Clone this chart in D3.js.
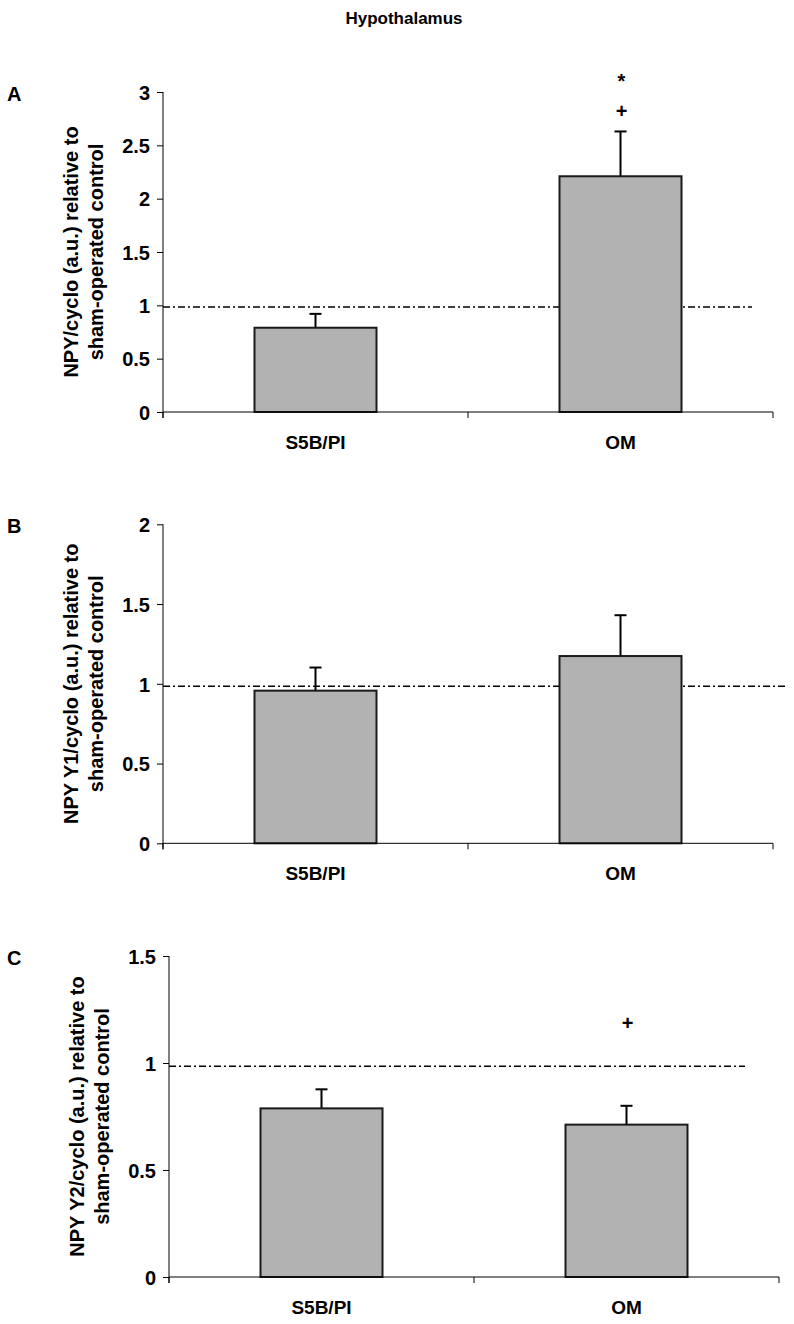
<!DOCTYPE html>
<html>
<head>
<meta charset="utf-8">
<script src="https://cdn.jsdelivr.net/npm/d3@7"></script>
<style>
  html, body { margin: 0; padding: 0; background: #fff; }
  svg { display: block; }
  text { font-family: "Liberation Sans", Arial, sans-serif; font-weight: bold; fill: #000; }
</style>
</head>
<body>
<script>
// ---------- DATA ----------
const categories = ["S5B/PI", "OM"];
const panelLetters = ["A", "B", "C"];
const chartTitle = "Hypothalamus";
const yTitlesLine1 = ["NPY/cyclo (a.u.) relative to", "NPY Y1/cyclo (a.u.) relative to", "NPY Y2/cyclo (a.u.) relative to"];
const yTitleLine2 = "sham-operated control";

const meanA = [0.79, 2.21];
const errA  = [0.13, 0.42];
const meanB = [0.957, 1.174];
const errB  = [0.145, 0.256];
const meanC = [0.788, 0.712];
const errC  = [0.089, 0.088];

const yMaxes = [3, 2, 1.5];
const ticksA = [0, 0.5, 1, 1.5, 2, 2.5, 3];
const ticksB = [0, 0.5, 1, 1.5, 2];
const ticksC = [0, 0.5, 1, 1.5];
const referenceValue = 0.985;

// significance markers
const markerPanel = [0, 0, 2];
const markerCat   = ["OM", "OM", "OM"];
const markerSym   = ["*", "+", "+"];
const markerVal   = [3.13, 2.82, 1.19];

// ---------- LAYOUT ----------
const W = 794, H = 1324;
const layouts = [
  { left: 163, right: 773, top: 92,    bottom: 412,   refL: 163, refR: 752 },
  { left: 163, right: 773, top: 524.3, bottom: 843.3, refL: 163, refR: 787 },
  { left: 169, right: 779, top: 956,   bottom: 1277,  refL: 169, refR: 745 }
];
const means = [meanA, meanB, meanC];
const errs = [errA, errB, errC];
const tickSets = [ticksA, ticksB, ticksC];

const svg = d3.select("body").append("svg").attr("width", W).attr("height", H);

svg.append("text")
  .attr("x", 404).attr("y", 24)
  .attr("text-anchor", "middle")
  .style("font-size", "17px")
  .text(chartTitle);

layouts.forEach((L, i) => {
  const g = svg.append("g");
  const x = d3.scaleBand().domain(categories).range([L.left, L.right])
    .paddingInner(0.6).paddingOuter(0.3);
  const y = d3.scaleLinear().domain([0, yMaxes[i]]).range([L.bottom, L.top]);

  // reference dash-dot line
  g.append("line")
    .attr("x1", L.refL).attr("x2", L.refR)
    .attr("y1", y(referenceValue)).attr("y2", y(referenceValue))
    .attr("stroke", "#000").attr("stroke-width", 1.4)
    .attr("stroke-dasharray", "7,3,2,3");

  const data = categories.map((c, k) => ({ c, m: means[i][k], e: errs[i][k] }));

  // error bars (upper only)
  const eb = g.selectAll(".eb").data(data).enter().append("g");
  eb.append("line")
    .attr("x1", d => x(d.c) + x.bandwidth() / 2).attr("x2", d => x(d.c) + x.bandwidth() / 2)
    .attr("y1", d => y(d.m)).attr("y2", d => y(d.m + d.e))
    .attr("stroke", "#000").attr("stroke-width", 2);
  eb.append("line")
    .attr("x1", d => x(d.c) + x.bandwidth() / 2 - 6).attr("x2", d => x(d.c) + x.bandwidth() / 2 + 6)
    .attr("y1", d => y(d.m + d.e)).attr("y2", d => y(d.m + d.e))
    .attr("stroke", "#000").attr("stroke-width", 2);

  // bars
  g.selectAll(".bar").data(data).enter().append("rect")
    .attr("x", d => x(d.c)).attr("width", x.bandwidth())
    .attr("y", d => y(d.m)).attr("height", d => y(0) - y(d.m))
    .attr("fill", "#b2b2b2").attr("stroke", "#1a1a1a").attr("stroke-width", 2);

  // y axis
  const yAxis = d3.axisLeft(y).tickValues(tickSets[i]).tickSize(6).tickPadding(7)
    .tickFormat(d3.format(""));
  const ya = g.append("g").attr("transform", `translate(${L.left},0)`).call(yAxis);
  ya.select(".domain").attr("d", `M0,${L.top}V${L.bottom + 6}`).attr("stroke", "#000");
  ya.selectAll("text").style("font-size", "20px").style("font-family", "'Liberation Sans', Arial, sans-serif").style("font-weight", "bold").attr("dy", "0.36em");

  // x axis (ticks at category boundaries)
  g.append("line").attr("x1", L.left).attr("x2", L.right)
    .attr("y1", L.bottom).attr("y2", L.bottom).attr("stroke", "#000").attr("stroke-width", 1);
  const bounds = [L.left, (x(categories[0]) + x(categories[1]) + x.bandwidth()) / 2, L.right];
  g.selectAll(".xt").data(bounds).enter().append("line")
    .attr("x1", d => d).attr("x2", d => d)
    .attr("y1", L.bottom).attr("y2", L.bottom + 6)
    .attr("stroke", "#000");
  g.selectAll(".xl").data(categories).enter().append("text")
    .attr("x", d => x(d) + x.bandwidth() / 2).attr("y", L.bottom + 37)
    .attr("text-anchor", "middle").style("font-size", "19px").text(d => d);

  // y title
  const cy = (L.top + L.bottom) / 2;
  g.append("text")
    .attr("transform", `translate(${L.left - 85},${cy}) rotate(-90)`)
    .attr("text-anchor", "middle").style("font-size", "20px").text(yTitlesLine1[i]);
  g.append("text")
    .attr("transform", `translate(${L.left - 60},${cy}) rotate(-90)`)
    .attr("text-anchor", "middle").style("font-size", "20px").text(yTitleLine2);

  // panel letter
  g.append("text").attr("x", 7).attr("y", L.top + 9)
    .style("font-size", "20px").text(panelLetters[i]);

  // significance markers
  markerPanel.forEach((p, k) => {
    if (p !== i) return;
    g.append("text")
      .attr("x", x(markerCat[k]) + x.bandwidth() / 2 + 1)
      .attr("y", y(markerVal[k]))
      .attr("dy", markerSym[k] === "*" ? "0.5em" : "0.36em")
      .attr("text-anchor", "middle")
      .style("font-size", "20px")
      .text(markerSym[k]);
  });
});
</script>
</body>
</html>
